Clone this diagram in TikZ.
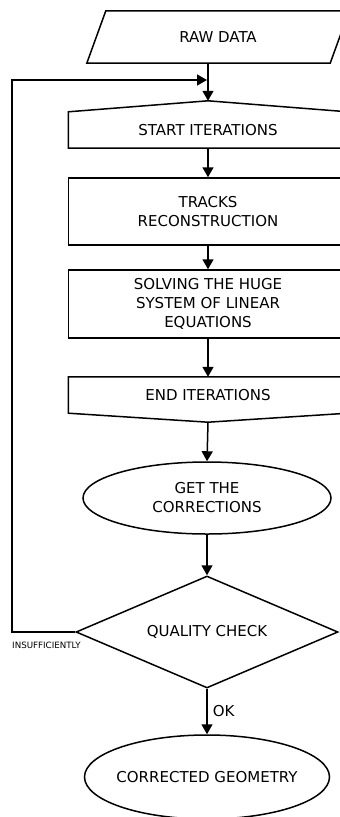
\documentclass[tikz,border=0pt]{standalone}
\usepackage{fontspec}
\setmainfont{DejaVu Sans}
\usetikzlibrary{shapes.geometric,arrows.meta,calc}

\tikzset{
  flow/.style={line width=1.5pt, line join=miter},
  arrow/.style={flow, -{Triangle[length=10pt,width=11pt]}},
  label/.style={font=\fontsize{15}{19}\selectfont, align=center, inner sep=0pt},
  boxnode/.style={label, draw, flow, rectangle, minimum width=279pt},
  textonly/.style={label, rectangle, minimum width=279pt},
  oval/.style={label, draw, flow, ellipse, inner sep=0pt},
  decision/.style={label, draw, flow, diamond, inner sep=0pt, aspect=2.34,
                   minimum width=262pt, minimum height=112pt},
  smalltext/.style={font=\fontsize{8.7}{10}\selectfont, inner sep=0pt}
}

\begin{document}
\begin{tikzpicture}[x=1pt, y=-1pt]
  \useasboundingbox (0,0) rectangle (340,817);

  % input parallelogram
  \node[textonly, minimum width=243pt, minimum height=52pt] (raw) at (218,37) {RAW DATA};
  \draw[flow] ($(raw.north west)+(9.5,0)$) -- ($(raw.north east)+(9.5,0)$)
              -- ($(raw.south east)+(-9.5,0)$) -- ($(raw.south west)+(-9.5,0)$) -- cycle;

  % loop start: box with a peaked top
  \node[textonly, minimum height=36pt] (start) at (208,130) {START ITERATIONS};
  \coordinate (startpeak) at ($(start.north)+(0,-11)$);
  \draw[flow] (start.north west) -- (startpeak) -- (start.north east)
              -- (start.south east) -- (start.south west) -- cycle;

  % processing steps
  \node[boxnode, minimum height=67pt] (tracks) at (208,211.5) {TRACKS\\RECONSTRUCTION};
  \node[boxnode, minimum height=68pt] (solve) at (208,304) {SOLVING THE HUGE\\SYSTEM OF LINEAR\\EQUATIONS};

  % loop end: box with a pointed bottom
  \node[textonly, minimum height=36pt] (finish) at (208,395) {END ITERATIONS};
  \coordinate (finishtip) at ($(finish.south)+(0,9)$);
  \draw[flow] (finish.south west) -- (finish.north west) -- (finish.north east)
              -- (finish.south east) -- (finishtip) -- cycle;

  \node[oval, minimum width=248pt, minimum height=72pt] (corr) at (207,498) {GET THE\\CORRECTIONS};
  \node[decision] (check) at (207,632) {QUALITY CHECK};
  % zero-width text box so the ellipse keeps its set width
  \node[oval, minimum width=245pt, minimum height=84pt] (geom) at (207,777)
       {\makebox[0pt]{CORRECTED GEOMETRY}};

  % main flow
  \draw[arrow] (raw.south -| startpeak) -- (startpeak);
  \draw[arrow] (start.south) -- (tracks.north);
  \draw[arrow] (tracks.south) -- (solve.north);
  \draw[arrow] (solve.south) -- (finish.north);
  \draw[arrow] (finishtip) -- (corr.north);
  \draw[arrow] (corr.south) -- (check.north);
  \draw[arrow] (check.south) -- node[right=5pt, label, inner sep=0pt] (ok) {OK} (geom.north);

  % feedback loop
  \coordinate (loopcorner) at (12,632);
  \coordinate (loopjoin) at (207,80);
  \draw[arrow] (check.west) -- (loopcorner) |- (loopjoin);
  \node[smalltext, anchor=west] (insuf) at (12,645) {INSUFFICIENTLY};
\end{tikzpicture}
\end{document}
